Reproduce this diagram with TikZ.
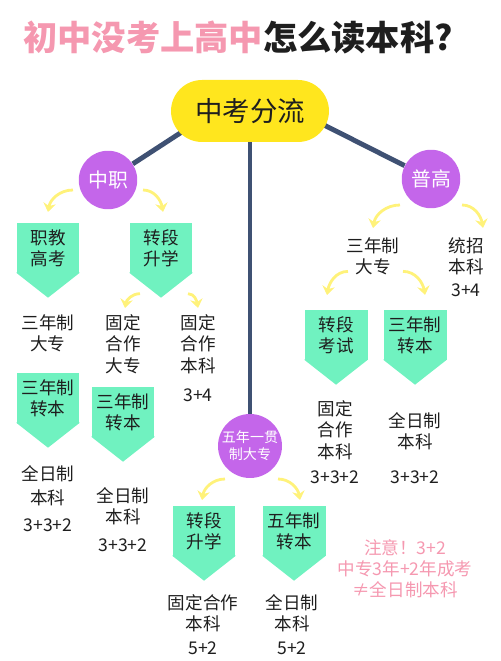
\documentclass[tikz,border=0pt]{standalone}
\usepackage{fontspec}
\setmainfont{Noto Sans CJK SC}
\usepackage{xcolor}
\usetikzlibrary{arrows.meta, positioning, backgrounds}

\definecolor{titlepink}{HTML}{F598B0}
\definecolor{pillyellow}{HTML}{FFE61E}
\definecolor{trunkblue}{HTML}{3F5173}
\definecolor{hubpurple}{HTML}{C466EA}
\definecolor{mint}{HTML}{70F2C0}
\definecolor{curlyellow}{HTML}{FFF27A}
\definecolor{ink}{HTML}{1E1E1E}

\begin{document}
\begin{tikzpicture}[
    x=0.02cm, y=-0.02cm,
    >=Stealth,
    pill/.style={rectangle, fill=pillyellow, rounded corners=0.62cm, minimum width=3.16cm, minimum height=1.24cm, text=ink, font=\fontsize{15.6}{18}\selectfont},
    hub/.style={circle, fill=hubpurple, text=white, minimum size=1.17cm, inner sep=0pt, align=center, font=\fontsize{11.3}{13}\selectfont},
    tagbox/.style={rectangle, fill=mint, anchor=north, minimum width=1.26cm, minimum height=1.0cm, inner sep=0pt, align=center, text=ink, font=\fontsize{10}{12.4}\selectfont},
    txt/.style={anchor=north, inner sep=0pt, align=center, text=ink, font=\fontsize{10}{12.2}\selectfont},
    trunk/.style={draw=trunkblue, line width=2.8pt},
    curl/.style={draw=curlyellow, line width=1.6pt, -{Stealth[length=5pt, width=7pt]}}
]
    \path[use as bounding box] (0,0) rectangle (500,661);

    % Titulo
    \node[inner sep=0pt, text=ink, font=\fontsize{19.5}{22}\selectfont\bfseries] (title) at (238,37)
        {\textcolor{titlepink}{初中没考上高中}怎么读本科?};

    % Tronco central
    \node[pill] (fenliu) at (250,111) {中考分流};
    \node[hub] (zhongzhi) at (108,180) {中职};
    \node[hub] (pugao) at (431,179) {普高};
    \node[hub, minimum size=1.28cm, font=\fontsize{8}{9.6}\selectfont] (wunian) at (250,446) {五年一贯\\制大专};

    % Columna izquierda
    \node[tagbox] (zjgk) at (48,223) {职教\\高考};
    \node[tagbox] (zdsx) at (161,223) {转段\\升学};
    \node[txt] (l1) at (48,314) {三年制\\大专};
    \node[txt] (l2) at (123,314) {固定\\合作\\大专};
    \node[txt] (l3) at (198,314) {固定\\合作\\本科\\[4.8pt]3+4};
    \node[tagbox] (szb1) at (48,373) {三年制\\转本};
    \node[tagbox] (szb2) at (123,387) {三年制\\转本};
    \node[txt] (l4) at (48,465) {全日制\\[1.4pt]本科\\[3.1pt]3+3+2};
    \node[txt] (l5) at (123,487) {全日制\\本科\\[3.6pt]3+3+2};

    % Columna derecha
    \node[txt] (l6) at (373,237) {三年制\\大专};
    \node[txt] (l7) at (466,237) {统招\\本科\\[0.8pt]3+4};
    \node[tagbox] (zdks) at (336,310) {转段\\考试};
    \node[tagbox] (szb3) at (415,310) {三年制\\转本};
    \node[txt] (l8) at (335,400) {固定\\合作\\本科\\[2pt]3+3+2};
    \node[txt] (l9) at (415,412) {全日制\\本科\\[7.6pt]3+3+2};

    % Abajo
    \node[tagbox] (zdsx2) at (204,506) {转段\\升学};
    \node[tagbox] (wnzb) at (294,506) {五年制\\转本};
    \node[txt] (l10) at (203,594) {固定合作\\本科\\[1.4pt]5+2};
    \node[txt] (l11) at (292,594) {全日制\\本科\\[1.4pt]5+2};
    \node[txt, text=titlepink, font=\fontsize{10}{11.9}\selectfont] (note) at (405,539)
        {注意！3+2\\中专3年+2年成考\\≠全日制本科};

    % Puntas de las cajas
    \foreach \b in {zjgk, zdsx, szb1, szb2, zdks, szb3, zdsx2, wnzb}
        \fill[mint] ([shift={(0,-1)}]\b.south west) -- ([shift={(0,-1)}]\b.south east) -- ([shift={(0,24)}]\b.south) -- cycle;

    % Conexiones
    \begin{scope}[on background layer]
        \draw[trunk] (zhongzhi) -- ([shift={(0,8)}]fenliu.north);
        \draw[trunk] (pugao) -- ([shift={(0,8)}]fenliu.north);
        \draw[trunk] (fenliu) -- (wunian);
    \end{scope}

    \draw[curl] ([shift={(-35,10)}]zhongzhi.center) to[out=180, in=80] ([shift={(0,-11)}]zjgk.north);
    \draw[curl] ([shift={(35,10)}]zhongzhi.center) to[out=0, in=100] ([shift={(2,-11)}]zdsx.north);
    \draw[curl] ([shift={(-21,20)}]zdsx.south) to[out=180, in=80] ([shift={(2,-6)}]l2.north);
    \draw[curl] ([shift={(27,20)}]zdsx.south) to[out=0, in=100] ([shift={(0,-6)}]l3.north);
    \draw[curl] ([shift={(-31,26)}]pugao.center) to[out=180, in=80] ([shift={(0,-9)}]l6.north);
    \draw[curl] ([shift={(31,26)}]pugao.center) to[out=0, in=100] ([shift={(17,-9)}]l7.north);
    \draw[curl] ([shift={(-25,-4)}]l6.south) to[out=180, in=80] ([shift={(-9,-15)}]zdks.north);
    \draw[curl] ([shift={(30,-4)}]l6.south) to[out=0, in=100] ([shift={(10,-15)}]szb3.north);
    \draw[curl] ([shift={(-25,33)}]wunian.center) to[out=180, in=80] ([shift={(-2,-6)}]zdsx2.north);
    \draw[curl] ([shift={(28,33)}]wunian.center) to[out=0, in=100] ([shift={(6,-6)}]wnzb.north);

\end{tikzpicture}
\end{document}
